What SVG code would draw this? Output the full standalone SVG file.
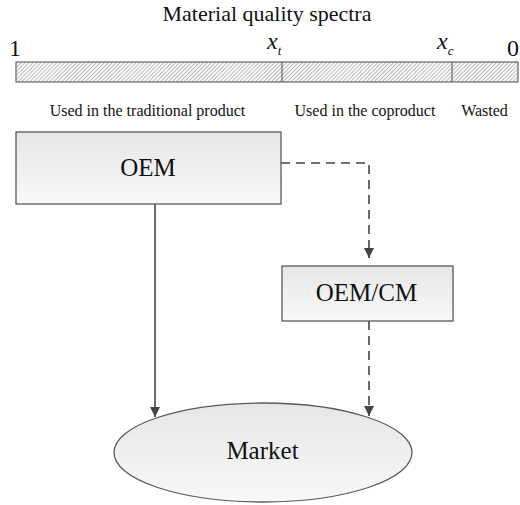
<svg xmlns="http://www.w3.org/2000/svg" width="520" height="505" viewBox="0 0 520 505">
<style>
text{font-family:"Liberation Serif","DejaVu Serif",serif;fill:#111}
.node{stroke:#5a5a5a;stroke-width:1.3}
.solid{stroke:#444;stroke-width:1.6;fill:none}
.dash{stroke:#444;stroke-width:1.6;fill:none;stroke-dasharray:9,6}
.lbl{font-size:16px}
</style>
<defs>
<pattern id="hatch" width="2.8" height="2.8" patternUnits="userSpaceOnUse" patternTransform="rotate(45)">
<rect width="2.8" height="2.8" fill="#fbfbfb"/>
<line x1="0" y1="0" x2="0" y2="2.8" stroke="#6e6e6e" stroke-width="0.9"/>
</pattern>
<linearGradient id="g" x1="0" y1="0" x2="0" y2="1">
<stop offset="0" stop-color="#e6e6e6"/>
<stop offset="1" stop-color="#f8f8f8"/>
</linearGradient>
<marker id="arr" viewBox="0 0 10 10" refX="10" refY="5" markerWidth="10" markerHeight="10" markerUnits="userSpaceOnUse" orient="auto">
<path d="M0,0 L10,5 L0,10 z" fill="#444"/>
</marker>
</defs>
<g id="spectrum">
<text x="267" y="21" font-size="22" text-anchor="middle">Material quality spectra</text>
<rect x="16" y="62" width="502" height="20" fill="url(#hatch)" stroke="#666" stroke-width="1.2"/>
<line x1="282" y1="62" x2="282" y2="82" stroke="#666" stroke-width="1.2"/>
<line x1="452" y1="62" x2="452" y2="82" stroke="#666" stroke-width="1.2"/>
<text x="9" y="56" font-size="24">1</text>
<text x="267" y="49" font-size="24" font-style="italic">x<tspan font-size="13" dy="6">t</tspan></text>
<text x="437" y="49" font-size="24" font-style="italic">x<tspan font-size="13" dy="6">c</tspan></text>
<text x="507" y="56" font-size="24">0</text>
<text class="lbl" x="147.5" y="116" text-anchor="middle">Used in the traditional product</text>
<text class="lbl" x="365" y="116" text-anchor="middle">Used in the coproduct</text>
<text class="lbl" x="484.5" y="116" text-anchor="middle">Wasted</text>
</g>
<g id="connectors">
<line class="solid" x1="155" y1="204" x2="155" y2="417" marker-end="url(#arr)"/>
<polyline class="dash" points="281,163 369,163 369,258" marker-end="url(#arr)"/>
<line class="dash" x1="369" y1="321" x2="369" y2="416" marker-end="url(#arr)"/>
</g>
<g id="oem">
<rect class="node" x="16" y="132" width="265" height="72" fill="url(#g)"/>
<text x="148" y="176" font-size="25" text-anchor="middle">OEM</text>
</g>
<g id="oemcm">
<rect class="node" x="282" y="266" width="171" height="55" fill="url(#g)"/>
<text x="366.5" y="301" font-size="25" text-anchor="middle">OEM/CM</text>
</g>
<g id="market">
<ellipse class="node" cx="263" cy="452.5" rx="149" ry="49.5" fill="url(#g)"/>
<text x="262.5" y="459" font-size="25" text-anchor="middle">Market</text>
</g>
</svg>
